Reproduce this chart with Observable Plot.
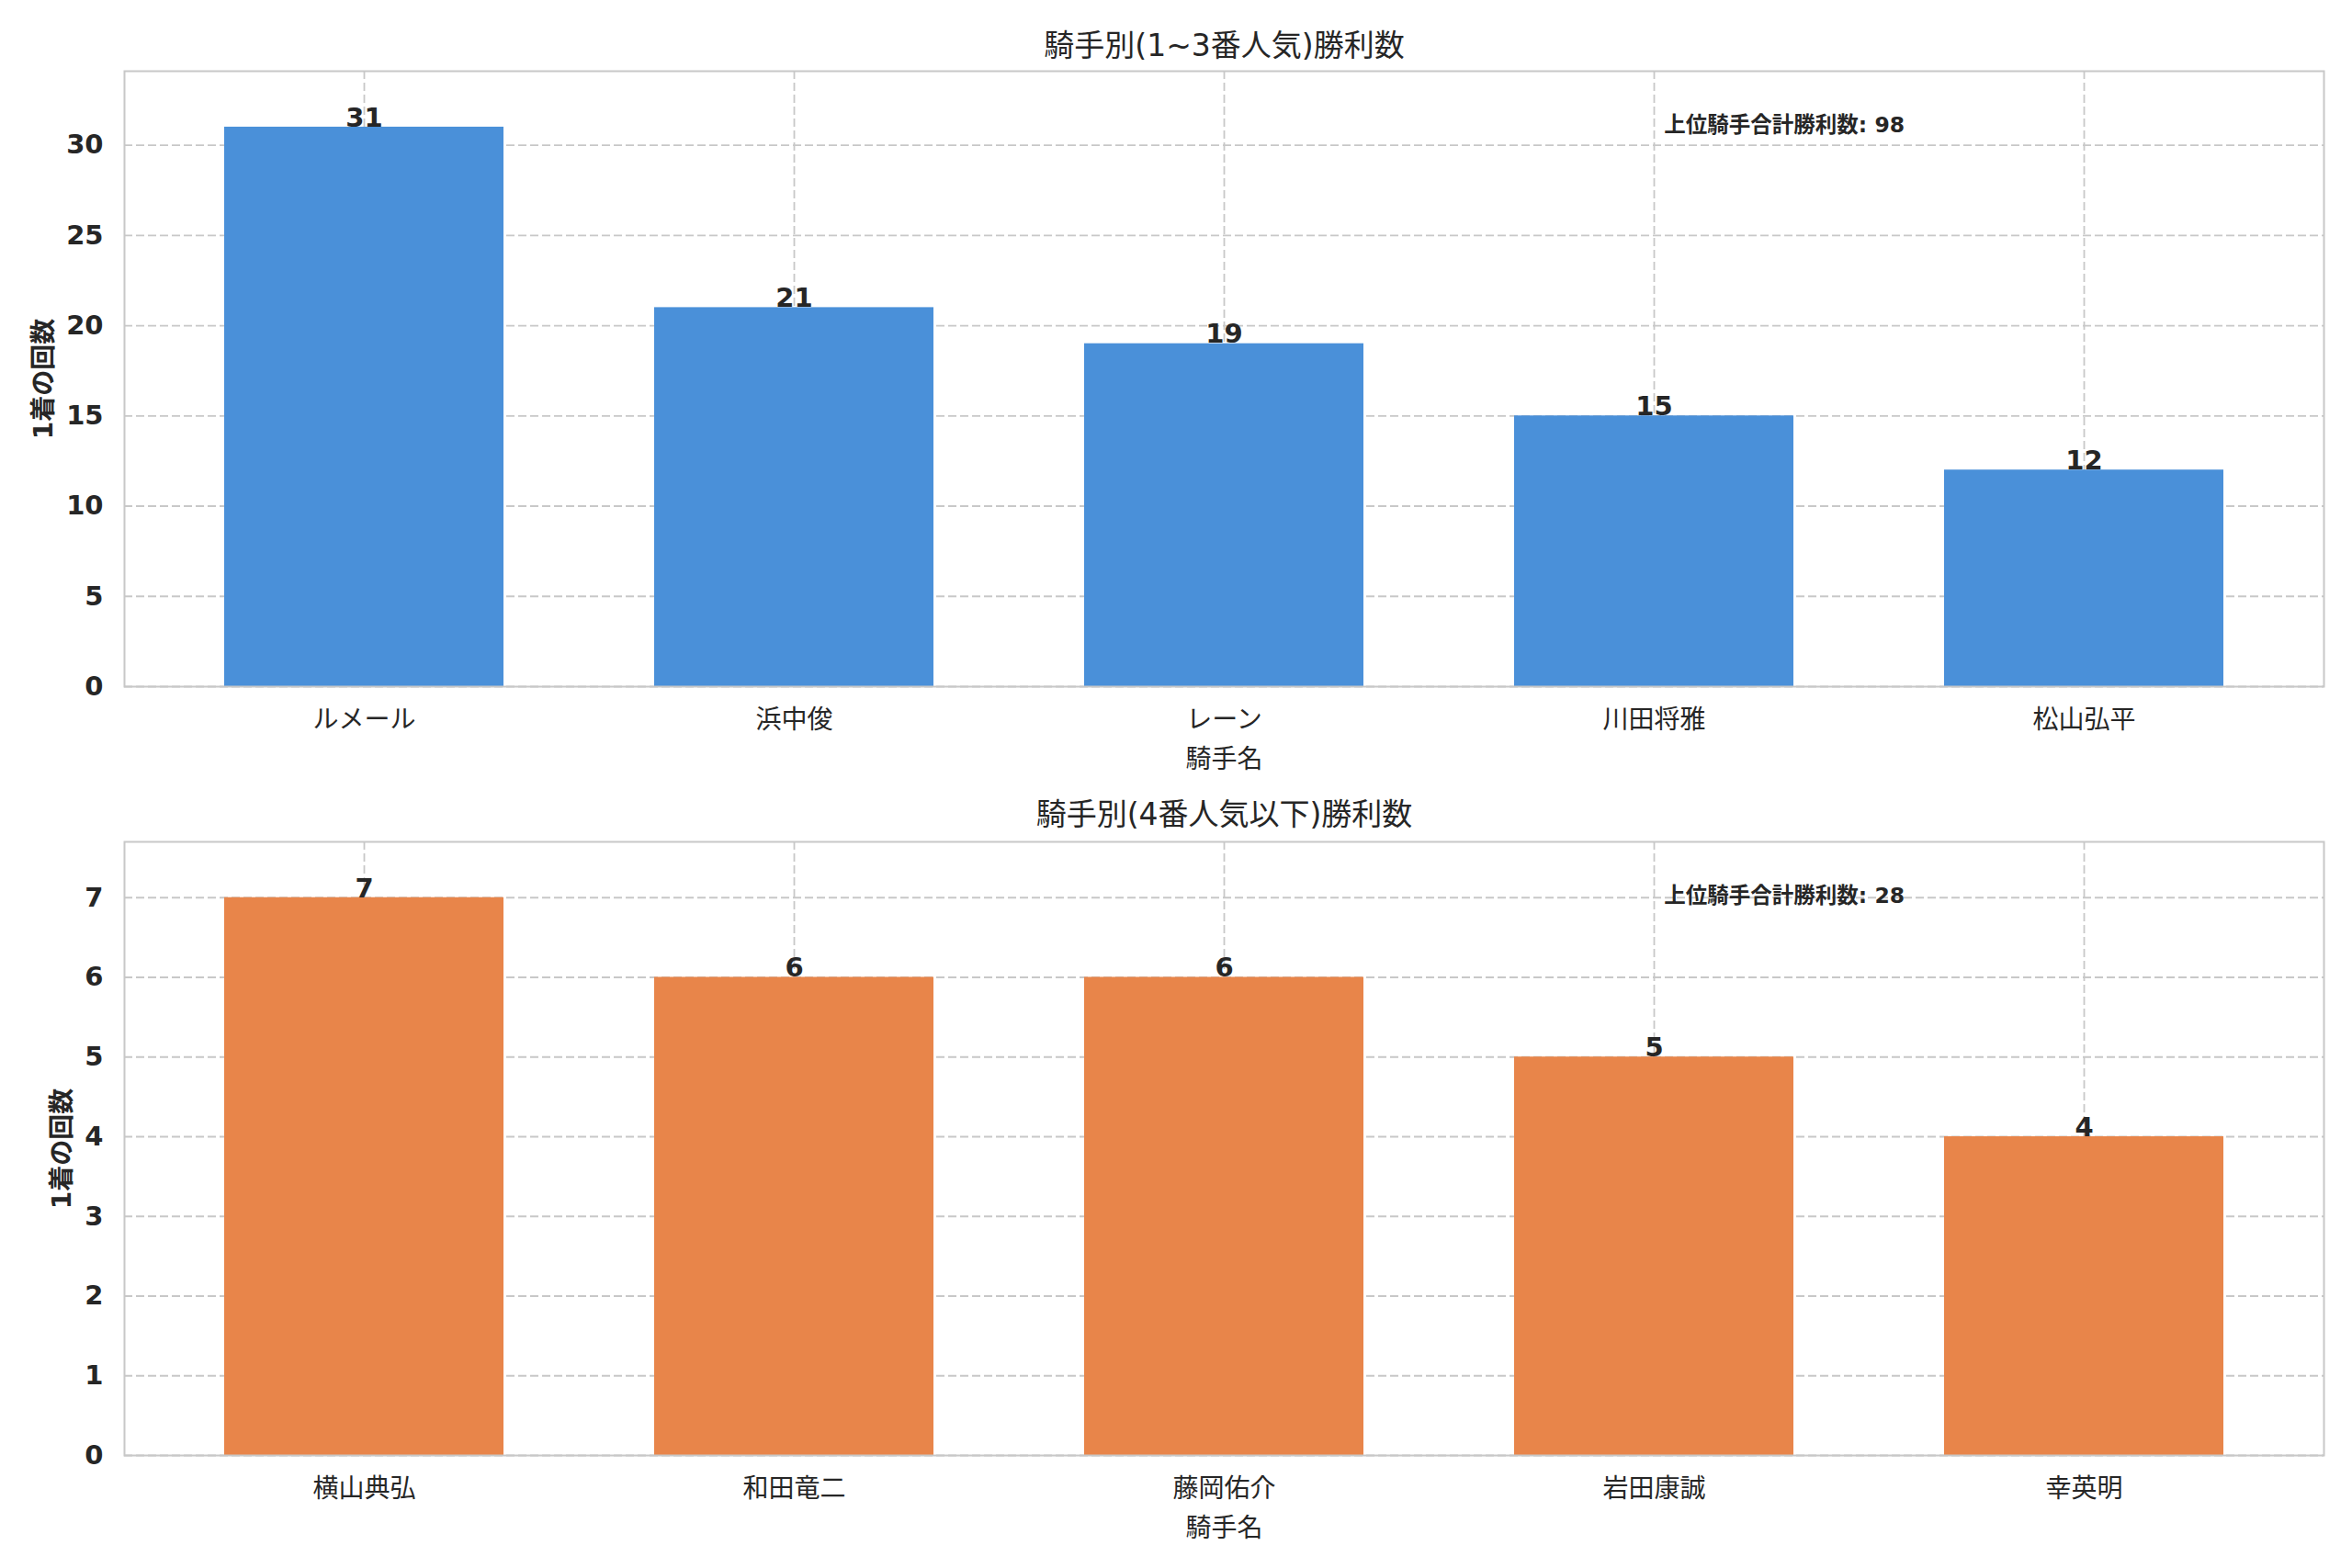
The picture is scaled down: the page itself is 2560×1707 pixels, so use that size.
<!DOCTYPE html>
<html>
<head>
<meta charset="utf-8">
<script src="https://cdn.jsdelivr.net/npm/d3@7"></script>
<script src="https://cdn.jsdelivr.net/npm/@observablehq/plot@0.6"></script>
<style>
  html, body { margin: 0; padding: 0; background: #ffffff; }
  #chart { width: 2560px; height: 1707px; background: #ffffff; }
  #chart svg { display: block; }
</style>
</head>
<body>
<div id="chart"></div>
<script>
// ---- data ----
const topTitle = "騎手別(1~3番人気)勝利数";
const topNames = ["ルメール", "浜中俊", "レーン", "川田将雅", "松山弘平"];
const topWins = [31, 21, 19, 15, 12];
const topTicks = [0, 5, 10, 15, 20, 25, 30];

const bottomTitle = "騎手別(4番人気以下)勝利数";
const bottomNames = ["横山典弘", "和田竜二", "藤岡佑介", "岩田康誠", "幸英明"];
const bottomWins = [7, 6, 6, 5, 4];
const bottomTicks = [0, 1, 2, 3, 4, 5, 6, 7];

const xLabel = "騎手名";
const yLabel = "1着の回数";
const totalLabel = "上位騎手合計勝利数";
const topColor = "#4a90d9";
const bottomColor = "#e8854a";

const FONT = "'DejaVu Sans', 'Noto Sans CJK JP', sans-serif";
const INK = "#262626";
const GRID = "#c8c8c8";

function panel({names, wins, ticks, color, title, height, marginTop, marginBottom, ylabelDx, titleDy}) {
  const rows = names.map((n, i) => ({name: n, wins: wins[i]}));
  const W = 2560, ML = 135, MR = 31;
  const frameW = W - ML - MR;
  const frameH = height - marginTop - marginBottom;
  return Plot.plot({
    width: W,
    height,
    marginLeft: ML,
    marginRight: MR,
    marginTop,
    marginBottom,
    style: {fontFamily: FONT, color: INK, background: "#ffffff", overflow: "visible"},
    x: {domain: names, paddingInner: 0.35, paddingOuter: 0.2325, axis: null},
    y: {domain: [0, d3.max(wins) * 1.1]},
    marks: [
      Plot.gridY({ticks, stroke: GRID, strokeOpacity: 1, strokeWidth: 1.8, strokeDasharray: "9,4"}),
      Plot.ruleX(names, {x: d => d, stroke: GRID, strokeOpacity: 1, strokeWidth: 1.8, strokeDasharray: "9,4"}),
      Plot.barY(rows, {x: "name", y: "wins", fill: color}),
      Plot.text(rows, {x: "name", y: "wins", text: d => String(d.wins), dy: -10, lineAnchor: "middle",
        fontSize: 29, fontWeight: "bold", fill: INK}),
      Plot.axisY({ticks, tickSize: 0, tickPadding: 23, fontSize: 29, fontWeight: "bold", label: null,
        tickFormat: d => String(d), fill: INK}),
      Plot.text(names, {x: d => d, frameAnchor: "bottom", dy: 37, lineAnchor: "middle",
        fontSize: 28, fill: INK}),
      Plot.text([xLabel], {frameAnchor: "bottom", dy: 80, lineAnchor: "middle", fontSize: 28, fill: INK}),
      Plot.text([yLabel], {frameAnchor: "left", dx: ylabelDx, rotate: -90, textAnchor: "middle",
        lineAnchor: "middle", fontSize: 28, fontWeight: "bold", fill: INK}),
      Plot.text([title], {frameAnchor: "top", dy: titleDy, lineAnchor: "middle", fontSize: 33, fill: INK}),
      Plot.text([`${totalLabel}: ${d3.sum(wins)}`], {frameAnchor: "top-left", dx: frameW * 0.7,
        dy: frameH * 0.088, textAnchor: "start", lineAnchor: "middle", fontSize: 23.5,
        fontWeight: "bold", fill: INK}),
      Plot.frame({stroke: GRID, strokeWidth: 2})
    ]
  });
}

const chart = document.getElementById("chart");
chart.appendChild(panel({
  names: topNames, wins: topWins, ticks: topTicks, color: topColor, title: topTitle,
  height: 853, marginTop: 77, marginBottom: 106, ylabelDx: -87, titleDy: -27
}));
chart.appendChild(panel({
  names: bottomNames, wins: bottomWins, ticks: bottomTicks, color: bottomColor, title: bottomTitle,
  height: 854, marginTop: 63, marginBottom: 123, ylabelDx: -67, titleDy: -29
}));
</script>
</body>
</html>
